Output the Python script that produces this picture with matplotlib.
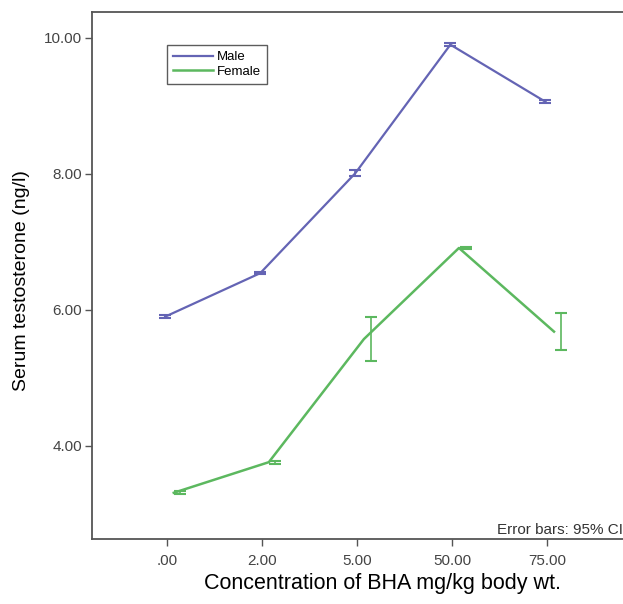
import numpy as np
import matplotlib
matplotlib.use('Agg')
import matplotlib.pyplot as plt

plt.rcParams['font.family'] = ['Liberation Sans', 'DejaVu Sans']

# data
doses = ['.00', '2.00', '5.00', '50.00', '75.00']
male_mean = [5.90, 6.54, 8.01, 9.90, 9.06]
male_ci = [0.02, 0.02, 0.04, 0.02, 0.02]
female_mean = [3.31, 3.76, 5.57, 6.91, 5.68]
female_ci = [0.02, 0.02, 0.32, 0.02, 0.27]

male_color = '#6464b4'
female_color = '#5cb85f'

x = np.arange(len(doses))

fig = plt.figure(figsize=(6.23, 6.04), dpi=100)
ax = fig.add_axes([0.1477, 0.1076, 0.856, 0.8725])

# lines
ax.plot(x - 0.02, male_mean, color=male_color, lw=1.6, label='Male')
ax.plot(x + 0.07, female_mean, color=female_color, lw=1.8, label='Female')

# error bars (95% CI)
ax.errorbar(x - 0.02, male_mean, yerr=male_ci, fmt='none', ecolor=male_color,
            elinewidth=1.2, capsize=4, capthick=1.5)
ax.errorbar(x + 0.14, female_mean, yerr=female_ci, fmt='none', ecolor=female_color,
            elinewidth=1.2, capsize=4, capthick=1.5)

ax.set_xlim(-0.79, 4.82)
ax.set_ylim(2.63, 10.38)
ax.set_xticks(x)
ax.set_xticklabels(doses)
ax.set_yticks([4, 6, 8, 10])
ax.set_yticklabels(['4.00', '6.00', '8.00', '10.00'])
ax.tick_params(axis='both', labelsize=11, labelcolor='#444444', color='#555555',
               length=5, width=1)
ax.tick_params(axis='y', pad=2)
ax.tick_params(axis='x', pad=6)

for s in ax.spines.values():
    s.set_color('#555555')
    s.set_linewidth(1.3)

ax.set_xlabel('Concentration of BHA mg/kg body wt.', fontsize=15.5)
ax.set_ylabel('Serum testosterone (ng/l)', fontsize=14)
ax.xaxis.set_label_coords(0.544, -0.064)
ax.yaxis.set_label_coords(-0.117, 0.49)

leg = ax.legend(loc='upper left', bbox_to_anchor=(0.141, 0.937), fontsize=9.5,
                frameon=True, fancybox=False, edgecolor='#333333',
                handlelength=3.0, handletextpad=0.3, borderpad=0.45,
                labelspacing=0.15, borderaxespad=0)
leg.get_frame().set_linewidth(1.0)

ax.text(0.996, 0.017, 'Error bars: 95% CI', transform=ax.transAxes,
        ha='right', va='center', fontsize=11, color='#333333')

fig.savefig('out.png', dpi=100)
